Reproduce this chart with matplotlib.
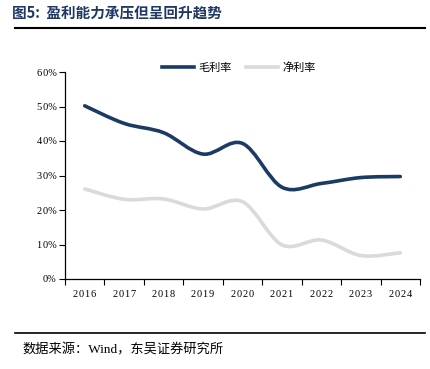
import numpy as np
import matplotlib.pyplot as plt
from matplotlib.path import Path
from matplotlib.patches import PathPatch
from matplotlib.lines import Line2D

years = ['2016', '2017', '2018', '2019', '2020', '2021', '2022', '2023', '2024']
gross = [50.2, 45.1, 42.4, 36.2, 39.3, 26.6, 27.7, 29.4, 29.7]   # 毛利率 %
net = [26.1, 23.1, 23.2, 20.3, 22.4, 9.9, 11.3, 6.8, 7.6]        # 净利率 %
yticks = [0, 10, 20, 30, 40, 50, 60]

navy = '#1B3A64'
grey = '#DADADA'
cjk = ['Noto Sans CJK SC', 'DejaVu Sans']
serif = ['Liberation Serif', 'Noto Sans CJK SC']


def spaced(s):
    return '\u200a'.join(s)


def smooth_path(xs, ys):
    # excel style smoothed line: cubic bezier through every point
    pts = np.column_stack([xs, ys]).astype(float)
    n = len(pts)
    verts = [pts[0]]
    codes = [Path.MOVETO]
    for i in range(n - 1):
        p0 = pts[i - 1] if i > 0 else pts[i]
        p1 = pts[i]
        p2 = pts[i + 1]
        p3 = pts[i + 2] if i + 2 < n else pts[i + 1]
        c1 = p1 + (p2 - p0) / 6.0
        c2 = p2 - (p3 - p1) / 6.0
        verts += [c1, c2, p2]
        codes += [Path.CURVE4] * 3
    return Path(verts, codes)


fig = plt.figure(figsize=(4.30, 3.69), dpi=100)
ax = fig.add_axes([65 / 430, 1 - 279 / 369, 355 / 430, 207 / 369])

x = np.arange(len(years))
for vals, col in [(net, grey), (gross, navy)]:
    ax.add_patch(PathPatch(smooth_path(x, vals), facecolor='none', edgecolor=col,
                           lw=2.6, capstyle='round', joinstyle='round'))

ax.set_xlim(-0.5, len(years) - 0.5)
ax.set_ylim(0, 60)
ax.set_yticks(yticks)
ax.set_yticklabels([spaced(f'{v}') + '%' for v in yticks], family=serif, fontsize=7.5)
ax.set_xticks(x)
ax.set_xticklabels([spaced(y) for y in years], family=serif, fontsize=7.5)
ax.set_xticks(np.arange(len(years) + 1) - 0.5, minor=True)
ax.tick_params(axis='x', which='major', length=0, pad=8)
ax.tick_params(axis='x', which='minor', length=4, width=0.8, direction='out')
ax.tick_params(axis='y', length=4, width=0.8, direction='out', pad=2)
for s in ['top', 'right']:
    ax.spines[s].set_visible(False)
for s in ['left', 'bottom']:
    ax.spines[s].set_linewidth(0.9)

handles = [Line2D([], [], color=navy, lw=2.6), Line2D([], [], color=grey, lw=2.6)]
ax.legend(handles, ['毛利率', '净利率'], loc='upper center', bbox_to_anchor=(0.49, 1.095),
          ncol=2, frameon=False, handlelength=2.9, handletextpad=0.4, columnspacing=1.3,
          prop={'family': cjk, 'size': 8})

fig.text(12 / 430, 1 - 14 / 369, '图5:  盈利能力承压但呈回升趋势', family=cjk, fontsize=10.5,
         fontweight='bold', color='#1F3864', va='center')
fig.add_artist(Line2D([15 / 430, 425 / 430], [1 - 28 / 369] * 2, color='black', lw=1.5))
fig.add_artist(Line2D([15 / 430, 425 / 430], [1 - 333 / 369] * 2, color='black', lw=1.2))
fig.text(22 / 430, 1 - 350 / 369, '数据来源：Wind，东吴证券研究所', family=serif,
         fontsize=9.5, va='center')

fig.savefig('out.png', dpi=100)
